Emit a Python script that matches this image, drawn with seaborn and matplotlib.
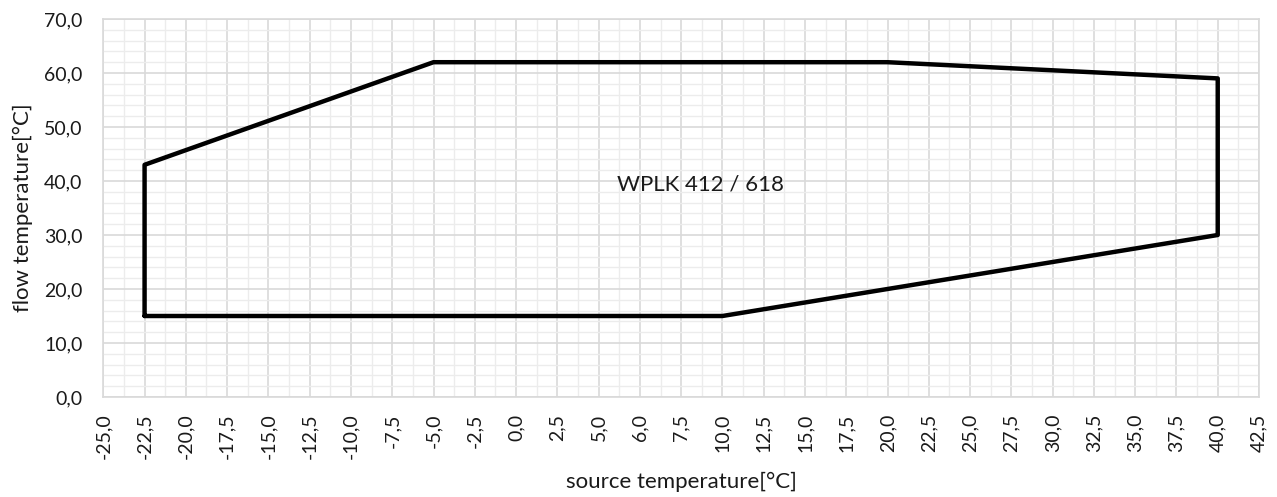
import matplotlib
matplotlib.use("Agg")
import matplotlib.pyplot as plt
import seaborn as sns
import pandas as pd
from matplotlib.ticker import FixedLocator, MultipleLocator

# Category x-axis (evenly spaced, as in the source chart)
x_categories = [-25.0, -22.5, -20.0, -17.5, -15.0, -12.5, -10.0, -7.5, -5.0, -2.5,
                0.0, 2.5, 5.0, 6.0, 7.5, 10.0, 12.5, 15.0, 17.5, 20.0, 22.5,
                25.0, 27.5, 30.0, 32.5, 35.0, 37.5, 40.0, 42.5]
x_labels = [f"{v:.1f}".replace(".", ",") for v in x_categories]

# Operating envelope (closed polygon)
source_temp = [-22.5, -22.5, -5.0, 20.0, 40.0, 40.0, 10.0, -22.5]
flow_temp = [15.0, 43.0, 62.0, 62.0, 59.0, 30.0, 15.0, 15.0]

y_ticks = [0, 10, 20, 30, 40, 50, 60, 70]
y_labels = [f"{v:.1f}".replace(".", ",") for v in y_ticks]

label_text = "WPLK 412 / 618"
x_title = "source temperature[°C]"
y_title = "flow temperature[°C]"

sns.set_theme(style="white")
plt.rcParams['font.family'] = ['Lato', 'DejaVu Sans']

df = pd.DataFrame({
    "pos": [x_categories.index(v) for v in source_temp],
    "y": flow_temp,
})

fig = plt.figure(figsize=(12.77, 4.97), dpi=100)
ax = fig.add_axes([103.3 / 1277, 1 - 397 / 497, (1259 - 103.3) / 1277, (397 - 19) / 497])

sns.lineplot(data=df, x="pos", y="y", sort=False, estimator=None, color="black",
             linewidth=3.2, ax=ax, zorder=5)

ax.set_xlim(0, len(x_categories) - 1)
ax.set_ylim(0, 70)
ax.xaxis.set_major_locator(FixedLocator(range(len(x_categories))))
ax.set_xticklabels(x_labels)
ax.xaxis.set_minor_locator(MultipleLocator(0.5))
ax.set_yticks(y_ticks)
ax.set_yticklabels(y_labels)
ax.yaxis.set_minor_locator(MultipleLocator(2))
ax.grid(which="major", color="#d9d9d9", linewidth=1.2)
ax.grid(which="minor", color="#ececec", linewidth=1.0)
ax.set_axisbelow(True)
for s in ax.spines.values():
    s.set_color("#d9d9d9")
    s.set_linewidth(1.2)

ax.tick_params(axis="x", which="both", length=0, labelsize=14, labelrotation=90, pad=12, colors="#1a1a1a")
ax.tick_params(axis="y", which="both", length=0, labelsize=14, pad=15, colors="#1a1a1a")

ax.set_xlabel(x_title, fontsize=16, color="#1a1a1a", labelpad=9)
ax.set_ylabel(y_title, fontsize=16, color="#1a1a1a", labelpad=8)

ax.text(0.517, 39.3, label_text, transform=ax.get_yaxis_transform(), ha="center", va="center",
        fontsize=16, color="#1a1a1a", zorder=6)

fig.savefig("out.png", dpi=100)
